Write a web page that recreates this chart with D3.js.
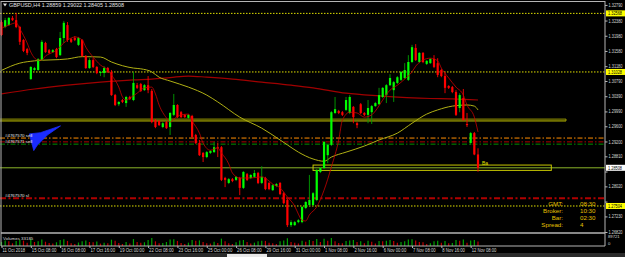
<!DOCTYPE html>
<html>
<head>
<meta charset="utf-8">
<script src="https://cdn.jsdelivr.net/npm/d3@7"></script>
<style>
body{margin:0;background:#000;overflow:hidden}
svg{display:block}
text{font-family:"Liberation Sans","DejaVu Sans",sans-serif}
</style>
</head>
<body>
<svg id="chart"></svg>
<script>
// GBPUSD H4 bars
var opens = [1.3234,1.3221,1.3226,1.3245,1.3239,1.3221,1.3187,1.3163,1.3084,1.3108,1.3108,1.3134,1.3179,1.3160,1.3155,1.3163,1.3147,1.3192,1.3226,1.3189,1.3192,1.3174,1.3187,1.3145,1.3113,1.3134,1.3116,1.3100,1.3100,1.3113,1.3103,1.3042,1.3018,1.3029,1.3021,1.3037,1.3029,1.3068,1.3071,1.3055,1.3068,1.3053,1.2976,1.2974,1.2958,1.2971,1.2958,1.2990,1.3016,1.2997,1.2990,1.2982,1.2987,1.2937,1.2916,1.2890,1.2879,1.2890,1.2892,1.2905,1.2905,1.2824,1.2811,1.2821,1.2819,1.2824,1.2798,1.2834,1.2824,1.2827,1.2837,1.2811,1.2824,1.2811,1.2792,1.2803,1.2811,1.2784,1.2766,1.2700,1.2700,1.2708,1.2708,1.2745,1.2753,1.2753,1.2766,1.2840,1.2850,1.2884,1.2911,1.2995,1.3000,1.2997,1.3003,1.2995,1.3011,1.2968,1.3018,1.2995,1.2990,1.2997,1.3013,1.3018,1.3037,1.3042,1.3068,1.3055,1.3074,1.3082,1.3087,1.3082,1.3129,1.3166,1.3129,1.3153,1.3124,1.3126,1.3137,1.3126,1.3108,1.3092,1.3066,1.3063,1.3050,1.3008,1.3034,1.2966,1.2916,1.2942,1.28859];
var highs = [1.3239,1.3245,1.3247,1.3250,1.3258,1.3224,1.3189,1.3166,1.3118,1.3116,1.3139,1.3187,1.3182,1.3163,1.3163,1.3166,1.3208,1.3237,1.3234,1.3192,1.3197,1.3195,1.3189,1.3147,1.3139,1.3139,1.3118,1.3105,1.3118,1.3116,1.3108,1.3045,1.3026,1.3032,1.3040,1.3040,1.3103,1.3074,1.3074,1.3071,1.3092,1.3058,1.2979,1.2976,1.2971,1.2974,1.2997,1.3045,1.3018,1.3000,1.2992,1.2992,1.2990,1.2940,1.2924,1.2892,1.2895,1.2897,1.2919,1.2916,1.2908,1.2827,1.2824,1.2824,1.2829,1.2827,1.2842,1.2837,1.2834,1.2845,1.2840,1.2855,1.2827,1.2813,1.2808,1.2811,1.2813,1.2787,1.2769,1.2713,1.2711,1.2716,1.2750,1.2763,1.2832,1.2787,1.2848,1.2853,1.2921,1.2913,1.3000,1.3037,1.3003,1.3000,1.3037,1.3042,1.3013,1.2971,1.3021,1.2997,1.3029,1.3016,1.3024,1.3061,1.3063,1.3071,1.3097,1.3079,1.3092,1.3105,1.3126,1.3147,1.3174,1.3176,1.3155,1.3155,1.3134,1.3139,1.3147,1.3139,1.3111,1.3103,1.3068,1.3066,1.3055,1.3047,1.3058,1.2995,1.2945,1.2945,1.29022];
var lows = [1.3197,1.3218,1.3224,1.3237,1.3218,1.3174,1.3155,1.3147,1.3082,1.3105,1.3105,1.3132,1.3153,1.3150,1.3153,1.3139,1.3145,1.3179,1.3182,1.3179,1.3184,1.3171,1.3142,1.3111,1.3111,1.3113,1.3097,1.3092,1.3089,1.3100,1.3040,1.3013,1.3013,1.3021,1.3011,1.3029,1.3026,1.3058,1.3050,1.3053,1.3047,1.2968,1.2955,1.2961,1.2955,1.2953,1.2937,1.2987,1.2982,1.2982,1.2982,1.2979,1.2929,1.2913,1.2882,1.2866,1.2876,1.2887,1.2890,1.2879,1.2816,1.2800,1.2808,1.2813,1.2816,1.2779,1.2795,1.2816,1.2821,1.2824,1.2808,1.2808,1.2792,1.2792,1.2790,1.2800,1.2779,1.2755,1.2695,1.2695,1.2698,1.2705,1.2705,1.2742,1.2750,1.2750,1.2763,1.2837,1.2848,1.2863,1.2908,1.2992,1.2992,1.2987,1.3000,1.2992,1.2968,1.2955,1.2992,1.2987,1.2968,1.2966,1.3011,1.3016,1.3034,1.3021,1.3066,1.3024,1.3071,1.3079,1.3084,1.3079,1.3126,1.3132,1.3126,1.3126,1.3121,1.3124,1.3113,1.3089,1.3089,1.3047,1.3058,1.3047,1.2987,1.2997,1.2976,1.2958,1.2911,1.2884,1.28405];
var closes = [1.3200,1.3239,1.3245,1.3239,1.3221,1.3182,1.3158,1.3153,1.3116,1.3113,1.3137,1.3182,1.3155,1.3153,1.3160,1.3142,1.3192,1.3232,1.3187,1.3182,1.3187,1.3192,1.3145,1.3113,1.3134,1.3116,1.3100,1.3103,1.3113,1.3103,1.3042,1.3016,1.3024,1.3024,1.3037,1.3032,1.3074,1.3061,1.3053,1.3068,1.3055,1.2971,1.2958,1.2963,1.2968,1.2955,1.2995,1.3016,1.2984,1.2984,1.2984,1.2990,1.2932,1.2916,1.2884,1.2879,1.2892,1.2895,1.2905,1.2903,1.2819,1.2819,1.2821,1.2816,1.2827,1.2798,1.2840,1.2819,1.2832,1.2837,1.2811,1.2827,1.2795,1.2795,1.2805,1.2808,1.2782,1.2758,1.2700,1.2708,1.2708,1.2713,1.2748,1.2761,1.2766,1.2784,1.2845,1.2850,1.2919,1.2911,1.2997,1.3005,1.2995,1.2990,1.3029,1.3037,1.2984,1.2963,1.2995,1.2990,1.3008,1.3013,1.3021,1.3042,1.3061,1.3068,1.3087,1.3076,1.3089,1.3103,1.3108,1.3129,1.3168,1.3134,1.3153,1.3129,1.3132,1.3137,1.3116,1.3095,1.3092,1.3061,1.3061,1.3050,1.2990,1.3042,1.2976,1.2963,1.2942,1.28859,1.28508];
var volumes = [30000,42000,35000,20000,38000,45000,40000,25000,52000,30000,35000,48000,32000,22000,18000,28000,45000,50000,38000,20000,15000,26000,35000,42000,30000,28000,33000,18000,25000,20000,47000,40000,22000,15000,30000,18000,52000,30000,25000,28000,45000,60000,35000,20000,22000,30000,48000,50000,38000,22000,15000,25000,45000,40000,42000,30000,20000,18000,32000,22000,55000,35000,20000,15000,28000,42000,45000,30000,18000,25000,35000,40000,38000,25000,20000,15000,35000,42000,58000,30000,25000,18000,40000,32000,45000,38000,52000,30000,55000,40000,60000,35000,22000,20000,38000,42000,45000,30000,35000,20000,40000,32000,18000,38000,35000,40000,45000,38000,25000,30000,35000,48000,50000,42000,30000,28000,15000,20000,35000,40000,25000,38000,20000,22000,45000,40000,48000,25000,42000,45000,33185];

// moving averages as [bar, price]
var fastMa = [[0,1.3218],[2,1.3226],[4,1.3232],[5,1.3216],[7,1.3179],[8,1.3155],[10,1.3134],[11,1.3134],[12,1.3145],[13,1.3150],[15,1.3160],[17,1.3179],[19,1.3192],[20,1.3195],[22,1.3187],[23,1.3168],[25,1.3142],[27,1.3121],[29,1.3108],[30,1.3095],[32,1.3063],[33,1.3037],[34,1.3029],[35,1.3034],[37,1.3047],[39,1.3061],[41,1.3063],[42,1.3045],[43,1.3016],[45,1.2982],[46,1.2971],[47,1.2979],[49,1.2990],[51,1.2992],[52,1.2974],[54,1.2942],[55,1.2916],[57,1.2897],[59,1.2903],[60,1.2890],[62,1.2861],[63,1.2837],[65,1.2824],[68,1.2824],[71,1.2827],[73,1.2816],[74,1.2808],[76,1.2798],[78,1.2774],[80,1.2750],[81,1.2729],[82,1.2713],[83,1.2711],[84,1.2727],[86,1.2748],[88,1.2792],[90,1.2853],[92,1.2924],[93,1.2976],[95,1.2997],[97,1.2995],[99,1.2984],[101,1.2990],[102,1.3000],[104,1.3029],[106,1.3055],[108,1.3068],[110,1.3084],[112,1.3103],[113,1.3118],[115,1.3134],[117,1.3139],[119,1.3132],[120,1.3113],[122,1.3087],[124,1.3063],[126,1.3042],[127,1.3016],[129,1.2984],[130,1.2945]];
var midMa = [[0,1.3107],[5,1.3126],[9,1.3132],[18,1.3137],[22,1.3143],[27,1.3142],[30,1.3129],[36,1.3113],[38,1.3111],[41,1.3103],[43,1.3089],[46,1.3079],[51,1.3063],[56,1.3042],[59,1.3024],[65,1.2984],[71,1.2955],[76,1.2924],[78,1.2911],[81,1.2892],[85,1.2874],[88,1.2868],[90,1.2879],[94,1.2892],[99,1.2908],[103,1.2924],[108,1.2942],[112,1.2968],[116,1.2992],[119,1.3003],[123,1.3013],[127,1.3016],[129,1.3013],[130,1.3003]];
var slowMa = [[0,1.3045],[9,1.3058],[18,1.3068],[27,1.3076],[36,1.3082],[41,1.3084],[46,1.3088],[51,1.3092],[56,1.3089],[63,1.3084],[71,1.3076],[79,1.3068],[85,1.3061],[94,1.3047],[103,1.3040],[117,1.3033],[123,1.3032],[130,1.3029]];

// horizontal objects
var dottedLevels = [1.32568, 1.31028, 1.27504];
var zoneTop = [1.2979, 1.2974];
var orangeLevel = 1.2929, redLevel = 1.2919, greenLevel = 1.2913, stopLevel = 1.2771;
var boxPrices = [1.2858, 1.2844], boxBars = [85, 150];
var bidPrice = 1.28508;
var arrowShape = [[7.6,1.2940],[10.6,1.2943],[16.1,1.2961],[12.5,1.2937],[11.2,1.2924],[9.8,1.2911],[8.8,1.2896],[8.4,1.2911],[7.9,1.2929]];

// axes
var priceTicks = [1.32790,1.32380,1.31980,1.31580,1.31180,1.30790,1.30390,1.29990,1.29600,1.29200,1.28810,1.28410,1.28020,1.27620,1.27230,1.26820];
var timeBars = [0,8,16,24,32,40,48,56,64,72,80,88,96,104,112,120,128];
var timeLabels = ["11 Oct 2018","15 Oct 08:00","16 Oct 08:00","17 Oct 16:00","19 Oct 00:00","22 Oct 08:00","23 Oct 16:00","25 Oct 00:00","26 Oct 08:00","29 Oct 16:00","31 Oct 00:00","1 Nov 08:00","2 Nov 16:00","6 Nov 00:00","7 Nov 08:00","8 Nov 16:00","12 Nov 08:00"];
var infoNames = ["GMT:","Broker:","Bar:","Spread:"];
var infoValues = ["08:30","10:30","02:30","4"];
var volumeMax = 89721;

var W = 625, H = 257, axisX = 605, mainBottom = 232, volTop = 234, volBottom = 246;

renderChart();

function renderChart(){
    var svg = d3.select("#chart").attr("width", W).attr("height", H);
    svg.append("rect").attr("width", W).attr("height", H).attr("fill", "#000");

    var xScale = d3.scaleLinear().domain([0, 130]).range([1.5, 478]);
    var yScale = d3.scaleLinear().domain([1.2682, 1.3292]).range([mainBottom, 0]);
    var volScale = d3.scaleLinear().domain([0, volumeMax]).range([volBottom, volTop]);

    var plot = svg.append("g");
    attachLevels(plot, xScale, yScale);
    attachMa(plot, slowMa, xScale, yScale, "#a00000", 1.2);
    attachMa(plot, midMa, xScale, yScale, "#b0b014", 1);
    attachCandles(plot, xScale, yScale);
    attachMa(plot, fastMa, xScale, yScale, "#c80000", 0.8);
    attachArrow(plot, xScale, yScale);
    attachVolumes(svg, xScale, volScale);
    attachFrame(svg);
    attachPriceAxis(svg, yScale);
    attachTimeAxis(svg, xScale);
    attachTexts(svg, xScale, yScale, volScale);
}

function attachCandles(g, xScale, yScale){
    var idx = d3.range(closes.length);
    g.selectAll(".wick").data(idx).enter().append("line")
        .attr("x1", function(i){ return xScale(i); })
        .attr("x2", function(i){ return xScale(i); })
        .attr("y1", function(i){ return yScale(highs[i]); })
        .attr("y2", function(i){ return yScale(lows[i]); })
        .attr("stroke", function(i){ return closes[i] >= opens[i] ? "#00a000" : "#ff0000"; })
        .attr("stroke-width", 0.9);
    g.selectAll(".body").data(idx).enter().append("rect")
        .attr("x", function(i){ return xScale(i) - 1.1; })
        .attr("width", 2.2)
        .attr("y", function(i){ return yScale(Math.max(opens[i], closes[i])); })
        .attr("height", function(i){ return Math.max(1, Math.abs(yScale(opens[i]) - yScale(closes[i]))); })
        .attr("fill", function(i){ return closes[i] >= opens[i] ? "#00ff00" : "#ff0000"; });
}

function attachMa(g, pts, xScale, yScale, color, width){
    var line = d3.line()
        .x(function(d){ return xScale(d[0]); })
        .y(function(d){ return yScale(d[1]); })
        .curve(d3.curveMonotoneX);
    g.append("path").attr("d", line(pts)).attr("fill", "none")
        .attr("stroke", color).attr("stroke-width", width);
}

function hline(g, y, color, width, dash, x1, x2){
    g.append("line").attr("x1", x1 === undefined ? 0 : x1).attr("x2", x2 === undefined ? axisX : x2)
        .attr("y1", y).attr("y2", y)
        .attr("stroke", color).attr("stroke-width", width)
        .attr("stroke-dasharray", dash || null);
}

function attachLevels(g, xScale, yScale){
    dottedLevels.forEach(function(p){ hline(g, yScale(p), "#e0e000", 1, "1.5,1.5"); });
    // olive zone: dark upper edge, bright lower edge
    var zx = xScale(154);
    hline(g, yScale(zoneTop[0]), "#7a7a00", 1.3, null, 0, zx);
    hline(g, yScale(zoneTop[1]), "#c8c800", 1, null, 0, zx);
    g.append("line").attr("x1", zx).attr("x2", zx).attr("y1", yScale(zoneTop[0])).attr("y2", yScale(zoneTop[1]))
        .attr("stroke", "#a0a000");
    hline(g, yScale(orangeLevel), "#ff8c00", 1, "5,2,1.5,2");
    hline(g, yScale(redLevel), "#b00000", 1, "5,2,1.5,2");
    hline(g, yScale(greenLevel), "#009000", 1, "5,2,1.5,2");
    hline(g, yScale(stopLevel), "#b00000", 2, "6,2.5,2,2.5");
    hline(g, yScale(bidPrice), "#8ab428", 1, null);
    g.append("rect").attr("x", xScale(boxBars[0])).attr("width", xScale(boxBars[1]) - xScale(boxBars[0]))
        .attr("y", yScale(boxPrices[0])).attr("height", yScale(boxPrices[1]) - yScale(boxPrices[0]))
        .attr("fill", "none").attr("stroke", "#c8c800").attr("stroke-width", 1);
}

function attachArrow(g, xScale, yScale){
    var line = d3.line().x(function(d){ return xScale(d[0]); }).y(function(d){ return yScale(d[1]); });
    g.append("path").attr("d", line(arrowShape) + "Z")
        .attr("fill", "#1a2cff").attr("stroke", "#1a2cff").attr("stroke-width", 0.8);
}

function attachVolumes(svg, xScale, volScale){
    var idx = d3.range(volumes.length);
    svg.append("g").selectAll("line").data(idx).enter().append("line")
        .attr("x1", function(i){ return xScale(i); })
        .attr("x2", function(i){ return xScale(i); })
        .attr("y1", volScale(0))
        .attr("y2", function(i){ return volScale(volumes[i]); })
        .attr("stroke", function(i){ return i > 0 && volumes[i] < volumes[i - 1] ? "#c00000" : "#00a000"; })
        .attr("stroke-width", 1.2);
}

function attachFrame(svg){
    var c = "#b4b4b4";
    svg.append("line").attr("x1", 1).attr("x2", 1).attr("y1", 1).attr("y2", volBottom).attr("stroke", c);
    svg.append("line").attr("x1", 1).attr("x2", axisX).attr("y1", 1.5).attr("y2", 1.5).attr("stroke", c);
    svg.append("line").attr("x1", 1).attr("x2", axisX).attr("y1", 233).attr("y2", 233).attr("stroke", c).attr("stroke-width", 1.5);
    svg.append("line").attr("x1", 1).attr("x2", axisX).attr("y1", volBottom).attr("y2", volBottom).attr("stroke", c);
    svg.append("line").attr("x1", axisX).attr("x2", axisX).attr("y1", 1).attr("y2", volBottom).attr("stroke", c);
    svg.append("rect").attr("x", 0).attr("y", 253).attr("width", W).attr("height", 4).attr("fill", "#2a2a2a");
    svg.append("rect").attr("x", 227).attr("y", 254).attr("width", 40).attr("height", 3).attr("fill", "#e8e8e8");
}

function attachPriceAxis(svg, yScale){
    var marks = dottedLevels.map(function(p){ return {p: p, bg: "#ffff00"}; });
    marks.push({p: bidPrice, bg: "#ffffff"});
    // ticks hidden behind a price mark are not labelled
    var shown = priceTicks.filter(function(t){
        return marks.every(function(m){ return Math.abs(yScale(t) - yScale(m.p)) > 4.5; });
    });
    var ax = svg.append("g").attr("transform", "translate(" + axisX + ",0)")
        .call(d3.axisRight(yScale).tickValues(priceTicks).tickSize(2.5)
            .tickFormat(function(d){ return shown.indexOf(d) >= 0 ? d3.format(".5f")(d) : ""; }));
    ax.select(".domain").remove();
    ax.selectAll("line").attr("stroke", "#b4b4b4");
    ax.selectAll("text").attr("fill", "#d8d8d8").attr("font-size", 4.8).attr("x", 3.5)
        .attr("textLength", function(d){ return shown.indexOf(d) >= 0 ? 14 : null; })
        .attr("lengthAdjust", "spacingAndGlyphs");
    marks.forEach(function(l){
        var y = yScale(l.p);
        svg.append("rect").attr("x", axisX + 1).attr("y", y - 3).attr("width", 19).attr("height", 6).attr("fill", l.bg);
        svg.append("text").attr("x", axisX + 3).attr("y", y + 1.8).attr("font-size", 4.8).attr("fill", "#000")
            .attr("textLength", 14).attr("lengthAdjust", "spacingAndGlyphs").text(l.p.toFixed(5));
    });
}

function attachTimeAxis(svg, xScale){
    var ax = svg.append("g").attr("transform", "translate(0," + volBottom + ")")
        .call(d3.axisBottom(xScale).tickValues(timeBars).tickSize(2)
            .tickFormat(function(d, i){ return timeLabels[i]; }));
    ax.select(".domain").remove();
    ax.selectAll("line").attr("stroke", "#b4b4b4");
    ax.selectAll("text").attr("fill", "#d8d8d8").attr("font-size", 5)
        .attr("text-anchor", "start").attr("dx", 0.5).attr("y", 2.5)
        .attr("textLength", function(d, i){ return timeLabels[i].length * 2.05; })
        .attr("lengthAdjust", "spacingAndGlyphs");
}

function attachTexts(svg, xScale, yScale, volScale){
    svg.append("path").attr("d", "M3,3.5L7,3.5L5,6.5Z").attr("fill", "#e0e0e0");
    svg.append("text").attr("x", 9).attr("y", 7).attr("font-size", 5.4).attr("fill", "#e0e0e0")
        .text("GBPUSD,H4  " + [opens[130], highs[130], lows[130], closes[130]].map(function(v){ return v.toFixed(5); }).join(" "));
    svg.append("text").attr("x", 3).attr("y", 239.5).attr("font-size", 4.4).attr("fill", "#d8d8d8")
        .text("Volumes " + volumes[volumes.length - 1]);
    svg.append("text").attr("x", axisX + 3).attr("y", volScale(volumeMax) + 4).attr("font-size", 4.2).attr("fill", "#d8d8d8").text(volumeMax);
    svg.append("text").attr("x", axisX + 3).attr("y", volScale(0) - 1.2).attr("font-size", 4.2).attr("fill", "#d8d8d8").text("0");
    // object labels on the left
    [[orangeLevel, "#4767570 sell"], [greenLevel, "#4767571 sell"], [stopLevel, "#4767570 sl"]].forEach(function(t){
        svg.append("text").attr("x", 5).attr("y", yScale(t[0]) - 1).attr("font-size", 4.4)
            .attr("fill", "#e8e8e8").text(t[1]);
    });
    // info block
    infoNames.forEach(function(n, i){
        var y = 205.5 + i * 7;
        svg.append("text").attr("x", 563).attr("y", y).attr("text-anchor", "end").attr("font-size", 6.2).attr("fill", "#e6c000").text(n);
        svg.append("text").attr("x", 580).attr("y", y).attr("font-size", 6.2).attr("fill", "#e6c000").text(infoValues[i]);
    });
    svg.append("text").attr("x", xScale(130) + 4).attr("y", yScale(1.2859)).attr("font-size", 5).attr("fill", "#e0e000").text("Ba");
}
</script>
</body>
</html>
